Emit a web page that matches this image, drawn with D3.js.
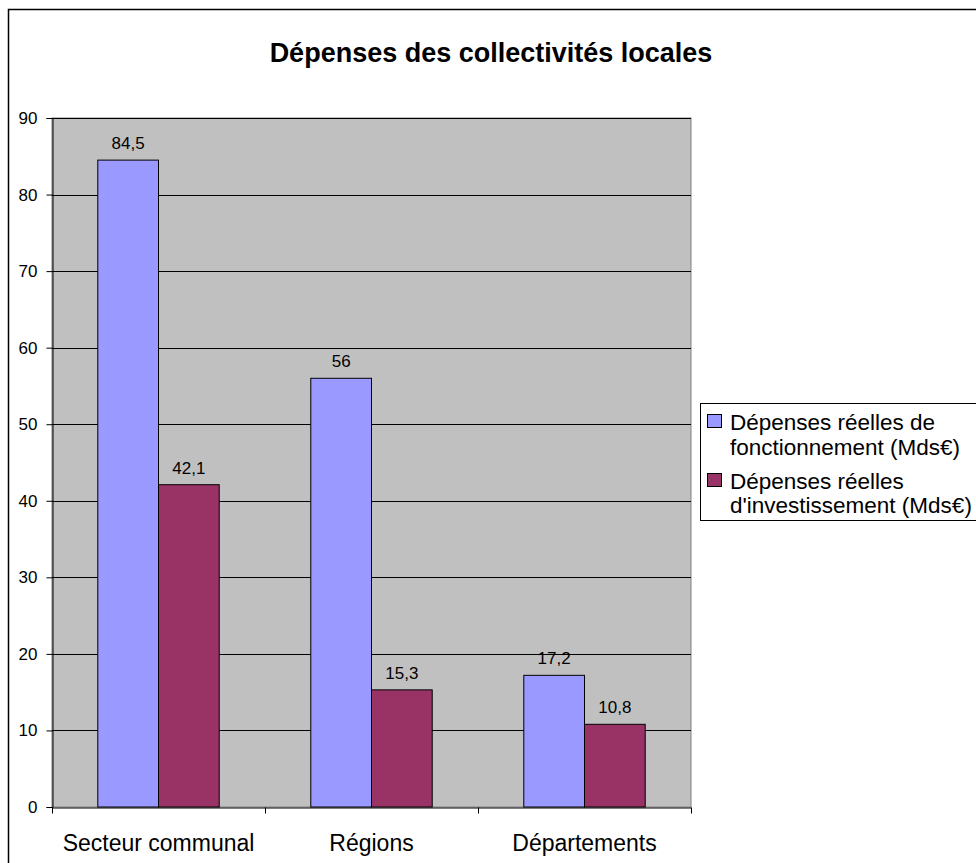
<!DOCTYPE html>
<html>
<head>
<meta charset="utf-8">
<script src="https://cdn.jsdelivr.net/npm/d3@7"></script>
<style>
  html, body { margin: 0; padding: 0; background: #fff; overflow: hidden; }
  svg { display: block; font-family: "Liberation Sans", Arial, sans-serif; }
</style>
</head>
<body>
<svg id="chart" width="976" height="863"></svg>
<script>
// Chart data
const categories = ["Secteur communal", "Régions", "Départements"];
const fonctionnement = [84.5, 56, 17.2];
const investissement = [42.1, 15.3, 10.8];
const seriesNames = [
  ["Dépenses réelles de", "fonctionnement (Mds€)"],
  ["Dépenses réelles", "d'investissement (Mds€)"]
];
const seriesColors = ["#9999FF", "#993366"];
const yTicks = [0, 10, 20, 30, 40, 50, 60, 70, 80, 90];

const FONT = "Liberation Sans, Arial, sans-serif";
const svg = d3.select("#chart");
const fmt = v => String(v).replace(".", ",");

// Outer chart frame
svg.append("rect")
  .attr("x", 8.5).attr("y", 9.5)
  .attr("width", 1000).attr("height", 1000)
  .attr("fill", "#fff").attr("stroke", "#000").attr("stroke-width", 1.5);

// Title
svg.append("text")
  .attr("x", 491).attr("y", 62)
  .attr("text-anchor", "middle")
  .attr("font-size", 27).attr("font-weight", "bold")
  .text("Dépenses des collectivités locales");

const plot = { left: 52, top: 118, right: 691, bottom: 807 };

const x0 = d3.scaleBand()
  .domain(categories)
  .range([plot.left, plot.right])
  .paddingInner(0).paddingOuter(0);

const x1 = d3.scaleBand()
  .domain([0, 1])
  .range([0, x0.bandwidth()])
  .paddingOuter(46 / 61)
  .paddingInner(0);

const y = d3.scaleLinear().domain([0, 90]).range([plot.bottom, plot.top]);

// Plot area background and border
svg.append("rect")
  .attr("x", plot.left).attr("y", plot.top)
  .attr("width", plot.right - plot.left).attr("height", plot.bottom - plot.top)
  .attr("fill", "#C0C0C0").attr("stroke", "#808080").attr("stroke-width", 1);

// Horizontal gridlines
svg.append("g")
  .selectAll("line")
  .data(yTicks.filter(t => t > 0))
  .join("line")
  .attr("x1", plot.left).attr("x2", plot.right)
  .attr("y1", d => Math.round(y(d)) + 0.5).attr("y2", d => Math.round(y(d)) + 0.5)
  .attr("stroke", "#000").attr("stroke-width", 1);

// Bars
const groups = svg.append("g")
  .selectAll("g")
  .data(categories)
  .join("g")
  .attr("transform", d => `translate(${x0(d)},0)`);

const barData = i => [
  { s: 0, v: fonctionnement[i] },
  { s: 1, v: investissement[i] }
];

groups.selectAll("rect")
  .data((c, i) => barData(i))
  .join("rect")
  .attr("x", d => x1(d.s))
  .attr("y", d => y(d.v))
  .attr("width", x1.bandwidth())
  .attr("height", d => y(0) - y(d.v))
  .attr("fill", d => seriesColors[d.s])
  .attr("stroke", "#000").attr("stroke-width", 1);

// Value labels
groups.selectAll("text")
  .data((c, i) => barData(i))
  .join("text")
  .attr("x", d => x1(d.s) + x1.bandwidth() / 2)
  .attr("y", d => y(d.v) - 11)
  .attr("text-anchor", "middle")
  .attr("font-size", 17)
  .attr("fill", "#000")
  .text(d => fmt(d.v));

// Y axis
const yAxis = svg.append("g")
  .attr("transform", `translate(${plot.left + 0.5},0)`)
  .call(d3.axisLeft(y).tickValues(yTicks).tickSize(6).tickPadding(9).tickFormat(d => d));
yAxis.select(".domain").attr("stroke", "#000");
yAxis.selectAll(".tick line").attr("stroke", "#000");
yAxis.selectAll(".tick text").attr("font-size", 17).attr("font-family", FONT).attr("fill", "#000");

// X axis
const xAxis = svg.append("g")
  .attr("transform", `translate(0,${plot.bottom + 0.5})`)
  .call(d3.axisBottom(x0).tickSize(0).tickPadding(0));
xAxis.select(".domain").attr("stroke", "#000");
xAxis.selectAll(".tick text")
  .attr("font-size", 23).attr("font-family", FONT)
  .attr("fill", "#000").attr("dy", 0).attr("y", 43);
// Category separators
xAxis.append("g")
  .selectAll("line")
  .data(categories.map(c => x0(c)).concat([plot.right]))
  .join("line")
  .attr("x1", d => Math.round(d) + 0.5).attr("x2", d => Math.round(d) + 0.5)
  .attr("y1", 0).attr("y2", 6)
  .attr("stroke", "#000");

// Legend
const legend = svg.append("g");
legend.append("rect")
  .attr("x", 700.5).attr("y", 403.5)
  .attr("width", 400).attr("height", 117)
  .attr("fill", "#fff").attr("stroke", "#000").attr("stroke-width", 1);

const legendBaselines = [[430, 455], [489, 513]];
seriesNames.forEach((lines, i) => {
  legend.append("rect")
    .attr("x", 707.5).attr("y", legendBaselines[i][0] - 15.5)
    .attr("width", 14).attr("height", 13)
    .attr("fill", seriesColors[i]).attr("stroke", "#000").attr("stroke-width", 1);
  lines.forEach((t, j) => {
    legend.append("text")
      .attr("x", 730).attr("y", legendBaselines[i][j])
      .attr("font-size", 22.5)
      .attr("fill", "#000")
      .text(t);
  });
});
</script>
</body>
</html>
